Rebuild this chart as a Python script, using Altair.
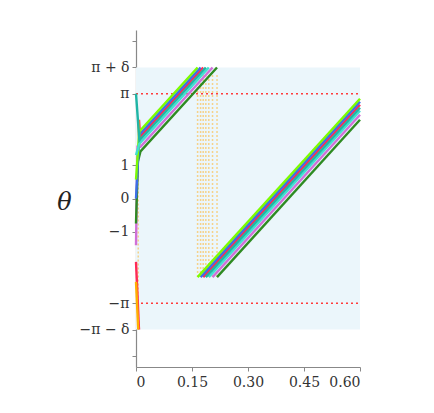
import altair as alt
import pandas as pd

PI = 3.14159
PD = 3.92699   # pi + delta (delta = pi/4)
MPD = -2.35619 # -pi + delta

# axis ticks
X_TICKS = [0, 0.15, 0.30, 0.45, 0.60]
X_LABELS = ["0", "0.15", "0.30", "0.45", "0.60"]
Y_TICKS = [-4.712, -3.927, -3.1416, -1, 0, 1, 3.1416, 3.927, 4.712]
Y_LABELS = ["", "−π − δ", "−π", "−1", "0", "1", "π", "π + δ", ""]

# series (drawn in this order, first at the bottom)
SERIES = ["red", "orange", "orchid", "forest", "blue", "lawn", "cyan", "teal"]
COLORS = {"red": "#FF2A55", "orange": "#FFB000", "orchid": "#D070D8",
          "forest": "#2E8B22", "blue": "#3D6FE8", "lawn": "#7CFC00",
          "cyan": "#40E0D0", "teal": "#1FB5A5"}

# segments: list of (x list, theta list) per series
red_x1 = [0.0, 0.008];            red_t1 = [-1.9, -3.927]
red_x2 = [0.008, 0.011, 0.180];   red_t2 = [2.356, 1.85, PD]
red_x3 = [0.180, 0.6];            red_t3 = [MPD, 2.81]

orange_x1 = [0.0, 0.006];         orange_t1 = [-2.5, -3.927]
orange_x2 = [0.006, 0.009];       orange_t2 = [2.356, 1.6]

orchid_x1 = [0.0, 0.004, 0.012, 0.205]; orchid_t1 = [-1.4, 1.55, 1.55, PD]
orchid_x2 = [0.205, 0.6];               orchid_t2 = [MPD, 2.51]

forest_x1 = [0.0, 0.005, 0.012, 0.217]; forest_t1 = [-0.75, 1.1, 1.41, PD]
forest_x2 = [0.217, 0.6];               forest_t2 = [MPD, 2.36]

blue_x1 = [0.0, 0.009, 0.173];    blue_t1 = [0.0, 1.91, PD]
blue_x2 = [0.173, 0.6];           blue_t2 = [MPD, 2.90]

lawn_x1 = [0.0, 0.009, 0.165];    lawn_t1 = [0.57, 2.01, PD]
lawn_x2 = [0.165, 0.6];           lawn_t2 = [MPD, 2.99]

cyan_x1 = [0.0, 0.009, 0.195];    cyan_t1 = [1.3, 1.64, PD]
cyan_x2 = [0.195, 0.6];           cyan_t2 = [MPD, 2.63]

teal_x1 = [0.0, 0.009, 0.187];    teal_t1 = [PI, 1.74, PD]
teal_x2 = [0.187, 0.6];           teal_t2 = [MPD, 2.72]

SEGMENTS = {
    "red": [(red_x1, red_t1), (red_x2, red_t2), (red_x3, red_t3)],
    "orange": [(orange_x1, orange_t1), (orange_x2, orange_t2)],
    "orchid": [(orchid_x1, orchid_t1), (orchid_x2, orchid_t2)],
    "forest": [(forest_x1, forest_t1), (forest_x2, forest_t2)],
    "blue": [(blue_x1, blue_t1), (blue_x2, blue_t2)],
    "lawn": [(lawn_x1, lawn_t1), (lawn_x2, lawn_t2)],
    "cyan": [(cyan_x1, cyan_t1), (cyan_x2, cyan_t2)],
    "teal": [(teal_x1, teal_t1), (teal_x2, teal_t2)],
}

# dotted wrap connectors (orange)
WRAP_X = [0.006, 0.165, 0.173, 0.180, 0.187, 0.195, 0.205, 0.217]
WRAP_LO = [-3.927, MPD, MPD, MPD, MPD, MPD, MPD, MPD]
WRAP_HI = [1.7, 3.75, 3.75, 3.75, 3.75, 3.75, 3.75, 3.75]

# red dotted reference lines at +-pi
REF_Y = [PI, -PI]

xs = alt.Scale(domain=[0, 0.6], nice=False, zero=False)
ys = alt.Scale(domain=[-5.05, 5.05], nice=False, zero=False)

FONT = "DejaVu Serif"

def lab_expr(vals, labs):
    parts = []
    for v, l in zip(vals, labs):
        parts.append(f"abs(datum.value - ({v})) < 0.005 ? '{l}' : ")
    return "".join(parts) + "''"

x_axis = alt.Axis(values=X_TICKS, labelExpr=lab_expr(X_TICKS, X_LABELS), title=None,
                  grid=False, domainColor="#888", domainWidth=1.2, tickColor="#888",
                  tickSize=4, labelFont=FONT, labelFontSize=14, labelColor="#333",
                  labelPadding=4)
y_axis = alt.Axis(values=Y_TICKS, labelExpr=lab_expr(Y_TICKS, Y_LABELS), title="θ",
                  grid=False, domainColor="#888", domainWidth=1.2, tickColor="#888",
                  tickSize=4, labelFont=FONT, labelFontSize=14, labelColor="#333",
                  labelPadding=3, titleFont=FONT, titleFontStyle="italic",
                  titleFontSize=24, titleFontWeight="normal", titleAngle=0,
                  titleX=-72, titleY=172, titleAlign="center", titleBaseline="middle",
                  titleColor="#222")

bg_df = pd.DataFrame({"x0": [0.0], "x1": [0.6], "y0": [-PD], "y1": [PD]})
bg = alt.Chart(bg_df).mark_rect(color="#EBF6FB").encode(
    x=alt.X("x0:Q", scale=xs, axis=x_axis), x2="x1:Q",
    y=alt.Y("y0:Q", scale=ys, axis=y_axis), y2="y1:Q")

wrap_df = pd.DataFrame({"x": WRAP_X, "lo": WRAP_LO, "hi": WRAP_HI})
wraps = alt.Chart(wrap_df).mark_rule(color="#FFB52E", strokeWidth=1.5,
                                     strokeDash=[2, 2], opacity=0.55).encode(
    x=alt.X("x:Q", scale=xs, axis=x_axis),
    y=alt.Y("lo:Q", scale=ys, axis=y_axis), y2="hi:Q")

ref_df = pd.DataFrame({"y": REF_Y, "x0": [0.0, 0.0], "x1": [0.6, 0.6]})
refs = alt.Chart(ref_df).mark_rule(color="#FF3B3B", strokeWidth=1.6,
                                   strokeDash=[2, 3]).encode(
    y=alt.Y("y:Q", scale=ys, axis=y_axis),
    x=alt.X("x0:Q", scale=xs, axis=x_axis), x2="x1:Q")

layers = [bg, refs, wraps]
for name in SERIES:
    rows = []
    for si, (sx, st) in enumerate(SEGMENTS[name]):
        for i, (a, b) in enumerate(zip(sx, st)):
            rows.append({"x": a, "t": b, "seg": si, "i": i})
    df = pd.DataFrame(rows)
    layers.append(
        alt.Chart(df).mark_line(color=COLORS[name], strokeWidth=2.4).encode(
            x=alt.X("x:Q", scale=xs, axis=x_axis),
            y=alt.Y("t:Q", scale=ys, axis=y_axis),
            detail="seg:N", order="i:Q"))

chart = alt.layer(*layers).properties(
    width=224, height=337,
    autosize=alt.AutoSizeParams(type="none"),
    padding={"left": 128, "top": 22, "right": 60, "bottom": 40},
).configure_view(stroke=None)

chart.save("out.html", embed_options={"renderer": "svg", "actions": False})
